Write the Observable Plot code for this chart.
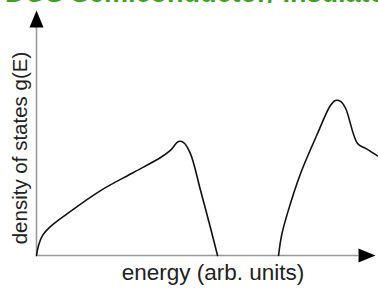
<!DOCTYPE html>
<html>
<head>
<meta charset="utf-8">
<script src="https://cdn.jsdelivr.net/npm/d3@7"></script>
<script src="https://cdn.jsdelivr.net/npm/@observablehq/plot@0.6"></script>
<style>
  html, body { margin: 0; padding: 0; background: #fff; overflow: hidden; }
  #wrap { position: relative; width: 378px; height: 289px; overflow: hidden; }
  #title { position: absolute; left: 5px; top: -22px; white-space: nowrap;
    font: bold 27px "Liberation Sans", Arial, sans-serif; color: #3aa51c; line-height: 31px; }
  #chart { position: absolute; left: 0; top: 0; }
</style>
</head>
<body>
<div id="wrap">
  <div id="chart"></div>
  <div id="title">DOS Semiconductor/ Insulator</div>
</div>
<script>
// Valence band (energy, g(E))
const valenceE = [0, 0.06, 0.18, 0.41, 0.91, 1.89, 2.86, 3.66, 3.95, 4.19, 4.34, 4.54, 4.84, 5.13, 5.34];
const valenceG = [0, 0.41, 0.82, 1.18, 1.71, 2.65, 3.39, 4.0, 4.29, 4.65, 4.61, 4.16, 2.65, 1.14, 0];
// Conduction band
const conductionE = [7.14, 7.23, 7.40, 7.79, 8.29, 8.67, 8.82, 8.97, 9.12, 9.47, 9.71, 10.09];
const conductionG = [0, 0.82, 1.71, 3.35, 4.98, 6.12, 6.33, 6.29, 6.0, 4.57, 4.37, 4.04];

const xLabel = "energy (arb. units)";
const yLabel = "density of states g(E)";
const xMax = 10, yMax = 10;

const valence = valenceE.map((e, i) => ({e, g: valenceG[i]}));
const conduction = conductionE.map((e, i) => ({e, g: conductionG[i]}));

const arrowRight = { draw(ctx) { ctx.moveTo(0, 0); ctx.lineTo(-17, -7); ctx.lineTo(-17, 7); ctx.closePath(); } };
const arrowUp = { draw(ctx) { ctx.moveTo(0, 0); ctx.lineTo(-7, 17); ctx.lineTo(7, 17); ctx.closePath(); } };

const font = "Liberation Sans, Arial, sans-serif";

const plot = Plot.plot({
  width: 378,
  height: 289,
  marginLeft: 36,
  marginRight: 3,
  marginTop: 10,
  marginBottom: 34,
  style: { fontFamily: font, overflow: "visible" },
  x: { domain: [0, xMax], axis: null },
  y: { domain: [0, yMax], axis: null },
  marks: [
    Plot.ruleY([0], { x1: 0, x2: xMax * 0.95, stroke: "#999", strokeWidth: 1.6 }),
    Plot.ruleX([0], { y1: 0, y2: yMax * 0.95, stroke: "#999", strokeWidth: 1.6 }),
    Plot.dot([{e: xMax, g: 0}], { x: "e", y: "g", symbol: arrowRight, fill: "black", stroke: null, r: 5 }),
    Plot.dot([{e: 0, g: yMax}], { x: "e", y: "g", symbol: arrowUp, fill: "black", stroke: null, r: 5 }),
    Plot.line(valence, { x: "e", y: "g", curve: "catmull-rom", stroke: "#111", strokeWidth: 1.6 }),
    Plot.line(conduction, { x: "e", y: "g", curve: "catmull-rom", stroke: "#111", strokeWidth: 1.6 }),
    Plot.text([xLabel], { frameAnchor: "bottom", dx: 7, dy: 24, fontSize: 22.5, fill: "#222", text: d => d }),
    Plot.text([yLabel], { frameAnchor: "left", textAnchor: "middle", dx: -16, dy: 15, rotate: -90, fontSize: 20.5, fill: "#222", text: d => d })
  ]
});
document.getElementById("chart").appendChild(plot);
</script>
</body>
</html>
